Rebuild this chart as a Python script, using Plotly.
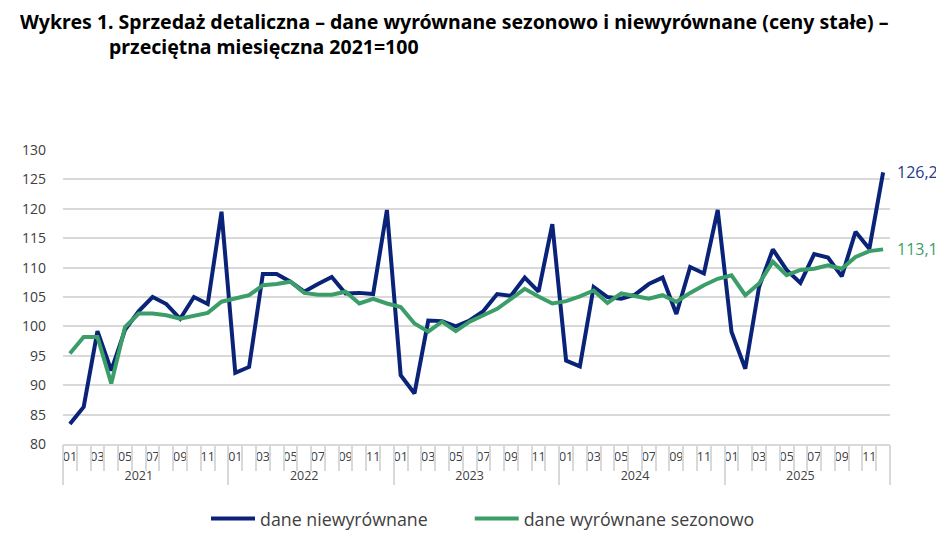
import plotly.graph_objects as go

years = ["2021", "2022", "2023", "2024", "2025"]
month_labels = ["01", "", "03", "", "05", "", "07", "", "09", "", "11", ""]

unadjusted = [
    83.4, 86.3, 99.2, 92.5, 99.4, 102.6, 105.0, 103.8, 101.3, 105.0, 103.8, 119.5,
    92.1, 93.1, 108.9, 108.9, 107.6, 105.9, 107.2, 108.4, 105.6, 105.7, 105.5, 119.8,
    91.7, 88.6, 101.0, 100.9, 100.0, 101.0, 102.6, 105.5, 105.2, 108.3, 105.9, 117.4,
    94.2, 93.2, 106.7, 105.0, 104.7, 105.4, 107.2, 108.3, 102.1, 110.1, 109.0, 119.8,
    99.1, 92.8, 106.7, 113.1, 109.6, 107.4, 112.3, 111.7, 108.5, 116.1, 113.2, 126.2,
]
seasonally_adjusted = [
    95.4, 98.2, 98.2, 90.3, 99.9, 102.2, 102.2, 101.9, 101.3, 101.8, 102.3, 104.2,
    104.7, 105.3, 107.0, 107.2, 107.6, 105.7, 105.4, 105.4, 105.9, 103.9, 104.7, 103.9,
    103.3, 100.5, 99.1, 100.8, 99.2, 100.8, 101.9, 103.0, 104.7, 106.4, 105.1, 103.9,
    104.3, 105.1, 106.1, 104.0, 105.6, 105.2, 104.7, 105.3, 104.2, 105.7, 107.0, 108.1,
    108.7, 105.3, 107.3, 111.0, 108.7, 109.6, 109.8, 110.4, 109.8, 111.8, 112.8, 113.1,
]
series_names = ["dane niewyrównane", "dane wyrównane sezonowo"]
end_labels = ["126,2", "113,1"]
title_lines = [
    "Wykres 1. Sprzedaż detaliczna – dane wyrównane sezonowo i niewyrównane (ceny stałe) –",
    "przeciętna miesięczna 2021=100",
]

BLUE = "#0a2378"
GREEN = "#3b9e69"
FONT = "Open Sans"
GRID = "#d9d9d9"

# multicategory x: outer = year, inner = month label (blank months made unique)
outer, inner = [], []
for y in years:
    for i, m in enumerate(month_labels):
        outer.append(y)
        inner.append(m if m else " " * (i + 1))
x = [outer, inner]
n = len(unadjusted)

W, H = 944, 559
OFF = 8  # page offset of the figure in the screenshot
L, T, R, B = 55, 142, 62, 123
PW, PH = W - L - R, H - T - B

PAD = "\u00a0" * 8  # widens the gap between the two legend entries

fig = go.Figure()
fig.add_trace(go.Scatter(x=x, y=unadjusted, mode="lines", name=series_names[0] + PAD,
                         line=dict(color=BLUE, width=4)))
fig.add_trace(go.Scatter(x=x, y=seasonally_adjusted, mode="lines", name=series_names[1],
                         line=dict(color=GREEN, width=4)))
# helper trace on an overlaid numeric axis that carries the month boundary ticks
fig.add_trace(go.Scatter(x=list(range(n)), y=unadjusted, xaxis="x2", mode="lines",
                         line=dict(width=0), opacity=0, showlegend=False, hoverinfo="skip"))

fig.update_layout(
    width=W, height=H,
    margin=dict(l=L, r=R, t=T, b=B, autoexpand=False),
    paper_bgcolor="white", plot_bgcolor="white",
    font=dict(family=FONT, color="#404040", size=14),
    showlegend=True,
    legend=dict(orientation="h", x=(483 - OFF - L) / PW, xanchor="center",
                y=-(519 - OFF - T - PH) / PH, yanchor="middle",
                font=dict(size=17.8, color="#404040"), itemwidth=44, tracegroupgap=0),
    xaxis=dict(type="multicategory", range=[-0.5, n - 0.5], showgrid=False, ticks="",
               showline=True, linecolor=GRID,
               linewidth=1.5, showdividers=True, dividercolor=GRID, dividerwidth=1.5,
               tickangle=0, automargin=False,
               tickfont=dict(size=12.5, color="#404040"), zeroline=False),
    xaxis2=dict(overlaying="x", anchor="y", side="bottom", range=[-0.5, n - 0.5],
                tickvals=[i - 0.5 for i in range(n + 1)], showticklabels=False,
                ticks="outside", ticklen=26, tickcolor=GRID, tickwidth=1.5,
                showgrid=False, zeroline=False, showline=False, automargin=False),
    yaxis=dict(range=[80, 130], dtick=5, tick0=80, showgrid=True, gridcolor=GRID,
               gridwidth=1.5, zeroline=False, showline=False, ticks="", automargin=False,
               tickfont=dict(size=14, color="#404040"), ticklabelstandoff=16),
)

fig.add_annotation(xref="paper", yref="y", x=1, y=unadjusted[-1], text=end_labels[0],
                   showarrow=False, xanchor="left", xshift=5,
                   font=dict(size=16, color="#253b8c", family=FONT))
fig.add_annotation(xref="paper", yref="y", x=1, y=seasonally_adjusted[-1], text=end_labels[1],
                   showarrow=False, xanchor="left", xshift=5,
                   font=dict(size=16, color=GREEN, family=FONT))

title_font = dict(family="Noto Sans", size=19.5, color="black", weight="bold")
# screen pixel positions of the two title lines
for txt, px, py in [(title_lines[0], 18, 21), (title_lines[1], 107, 46)]:
    fig.add_annotation(xref="paper", yref="paper",
                       x=(px - OFF - L) / PW, y=1 + (T - (py - OFF)) / PH,
                       xanchor="left", yanchor="middle", text=txt,
                       showarrow=False, font=title_font)

fig.write_html("out.html")
